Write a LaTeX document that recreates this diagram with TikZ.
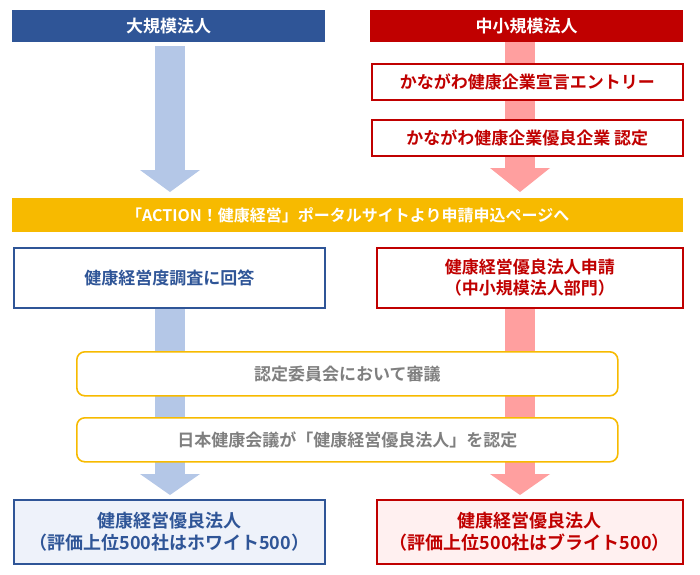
\documentclass[tikz,border=0pt]{standalone}
\usepackage{fontspec}
\setmainfont{Noto Sans CJK JP}[BoldFont={Noto Sans CJK JP Bold}]
\definecolor{hblue}{HTML}{2F5597}
\definecolor{hred}{HTML}{C00000}
\definecolor{lblue}{HTML}{B4C7E7}
\definecolor{lpink}{HTML}{FF9F9F}
\definecolor{gold}{HTML}{F7BA00}
\definecolor{gtext}{HTML}{7F7F7F}
\definecolor{fblue}{HTML}{EEF2FA}
\definecolor{fred}{HTML}{FFF0F0}
\begin{document}
\begin{tikzpicture}[x=1pt,y=-1pt,
 hdr/.style={draw=none,minimum height=32pt,text=white,font=\bfseries\fontsize{17}{20}\selectfont},
 rbox/.style={draw=hred,line width=1.6pt,fill=white,text=hred,font=\bfseries\fontsize{17}{21}\selectfont,align=center},
 bbox/.style={draw=hblue,line width=1.6pt,fill=white,text=hblue,font=\bfseries\fontsize{17}{21}\selectfont,align=center},
 ybox/.style={draw=gold,line width=1.6pt,rounded corners=8pt,fill=white,text=gtext,font=\bfseries\fontsize{17}{20}\selectfont}]
\useasboundingbox (0,0) rectangle (700,574);
% arrows
\fill[lblue] (155,46) rectangle (185,170);
\fill[lblue] (140,170) -- (200,170) -- (170,192) -- cycle;
\fill[lpink] (505,42) rectangle (535,170);
\fill[lpink] (490,168) -- (550,168) -- (520,192) -- cycle;
\fill[lblue] (155,308) rectangle (185,475);
\fill[lblue] (140,474) -- (200,474) -- (170,495) -- cycle;
\fill[lpink] (505,308) rectangle (535,475);
\fill[lpink] (490,474) -- (550,474) -- (520,495) -- cycle;
% headers
\node[hdr,fill=hblue,minimum width=313pt,anchor=north west] (h1) at (12,10) {大規模法人};
\node[hdr,fill=hred,minimum width=313pt,anchor=north west] (h2) at (370,10) {中小規模法人};
\node[rbox,minimum width=311pt,minimum height=36pt,anchor=north west] (r1) at (371,63) {かながわ健康企業宣言エントリー};
\node[rbox,minimum width=311pt,minimum height=36pt,anchor=north west] (r2) at (371,119) {かながわ健康企業優良企業 認定};
\node[hdr,fill=gold,minimum width=671pt,minimum height=34pt,anchor=north west,font=\bfseries\fontsize{16}{19}\selectfont] (ban) at (12,198) {「ACTION！健康経営」ポータルサイトより申請申込ページへ};
\node[bbox,minimum width=311pt,minimum height=60pt,anchor=north west] (b1) at (13,247) {健康経営度調査に回答};
\node[rbox,minimum width=306pt,minimum height=60pt,anchor=north west] (r3) at (376,247) {健康経営優良法人申請\\（中小規模法人部門）};
\node[ybox,minimum width=541pt,minimum height=44pt,anchor=north west] (y1) at (76,351) {認定委員会において審議};
\node[ybox,minimum width=541pt,minimum height=44pt,anchor=north west] (y2) at (76,417) {日本健康会議が「健康経営優良法人」を認定};
\node[bbox,fill=fblue,minimum width=311pt,minimum height=64pt,anchor=north west,font=\bfseries\fontsize{18}{22}\selectfont] (b2) at (13,499) {健康経営優良法人\\（評価上位500社はホワイト500）};
\node[rbox,fill=fred,minimum width=306pt,minimum height=64pt,anchor=north west,font=\bfseries\fontsize{18}{22}\selectfont] (r4) at (376,499) {健康経営優良法人\\（評価上位500社はブライト500）};
\end{tikzpicture}
\end{document}
